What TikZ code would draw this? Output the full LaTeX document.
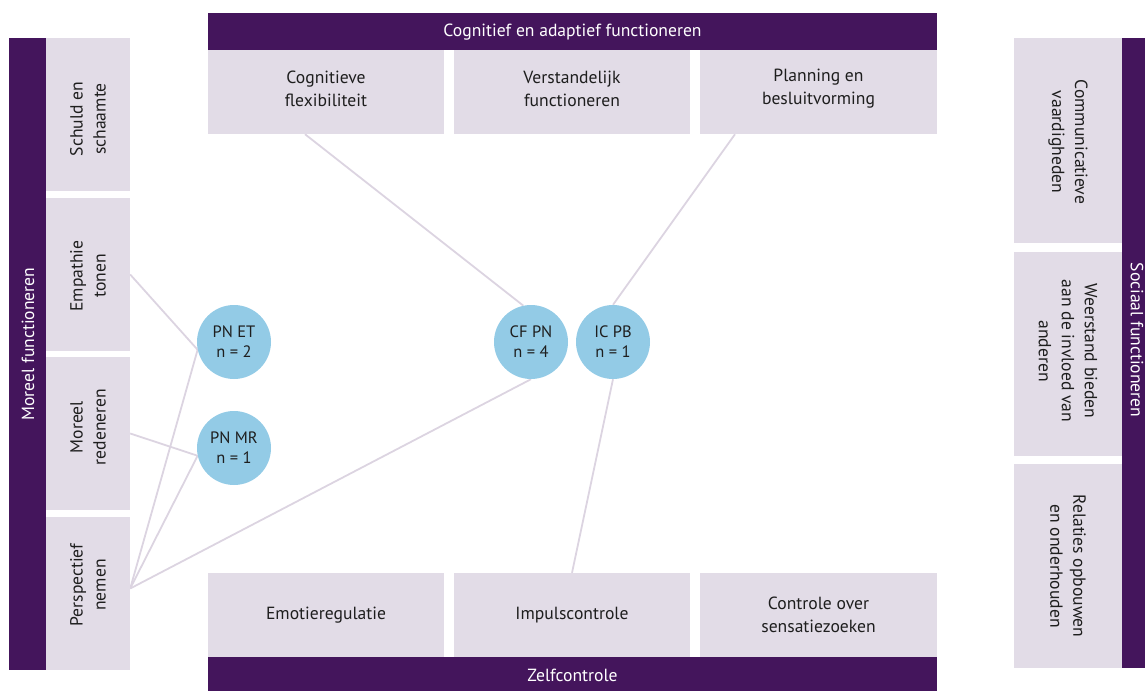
\documentclass[tikz,border=0pt]{standalone}
\usepackage{fontspec}
\setmainfont{PT Sans}
\usetikzlibrary{backgrounds,calc}
\definecolor{purp}{HTML}{44155C}
\definecolor{lbox}{HTML}{E2DCE7}
\definecolor{circ}{HTML}{93CBE6}
\definecolor{conn}{HTML}{DCD4E1}
\definecolor{ink}{HTML}{1E1E1E}
\tikzset{
  lightbox/.style={fill=lbox, draw=none, inner sep=0pt},
  purpbar/.style={fill=purp, draw=none, inner sep=0pt},
  txt/.style={align=center, text=ink, inner sep=0pt, font=\fontsize{17.6}{23}\selectfont},
  wtxt/.style={align=center, text=white, inner sep=0pt, font=\fontsize{17.6}{22}\selectfont},
  bubble/.style={circle, fill=circ, draw=none, minimum size=74pt, inner sep=0pt, align=center, text=ink, font=\fontsize{16.5}{20}\selectfont},
  link/.style={draw=conn, line width=1.8pt}
}
\begin{document}
\begin{tikzpicture}[x=1pt,y=-1pt]
\useasboundingbox (0,0) rectangle (1145,691);
\clip (0,0) rectangle (1145,691);

% top group
\node[purpbar, minimum width=729pt, minimum height=37pt] (topbar) at (572.5,31.5) {};
\node[wtxt] (topbart) at (572.5,32.5) {Cognitief en adaptief functioneren};
\node[lightbox, minimum width=236pt, minimum height=84pt] (cf) at (326,92) {};
\node[txt] (cft) at (326,89) {Cognitieve\\flexibiliteit};
\node[lightbox, minimum width=236pt, minimum height=84pt] (vf) at (572,92) {};
\node[txt] (vft) at (572,89) {Verstandelijk\\functioneren};
\node[lightbox, minimum width=237pt, minimum height=84pt] (pb) at (818.5,92) {};
\node[txt] (pbt) at (818.5,89) {Planning en\\besluitvorming};

% bottom group
\node[lightbox, minimum width=236pt, minimum height=84pt] (er) at (326,615) {};
\node[txt] (ert) at (er) {Emotieregulatie};
\node[lightbox, minimum width=236pt, minimum height=84pt] (ic) at (572,615) {};
\node[txt] (ict) at (ic) {Impulscontrole};
\node[lightbox, minimum width=237pt, minimum height=84pt] (cs) at (818.5,615) {};
\node[txt] (cst) at (cs) {Controle over\\sensatiezoeken};
\node[purpbar, minimum width=729pt, minimum height=34pt] (botbar) at (572.5,674) {};
\node[wtxt] (botbart) at (572.5,675) {Zelfcontrole};

% left group
\node[purpbar, minimum width=37pt, minimum height=632pt] (leftbar) at (27.5,354) {};
\node[wtxt, rotate=90] (leftbart) at (28,344) {Moreel functioneren};
\node[lightbox, minimum width=84pt, minimum height=153pt] (ss) at (88,114.5) {};
\node[txt, rotate=90] (sst) at (88,119) {Schuld en\\schaamte};
\node[lightbox, minimum width=84pt, minimum height=153pt] (et) at (88,274.5) {};
\node[txt, rotate=90] (ett) at (88,276) {Empathie\\tonen};
\node[lightbox, minimum width=84pt, minimum height=153pt] (mr) at (88,433.5) {};
\node[txt, rotate=90] (mrt) at (88,427) {Moreel\\redeneren};
\node[lightbox, minimum width=84pt, minimum height=153pt] (pn) at (88,593.5) {};
\node[txt, rotate=90] (pnt) at (88,585) {Perspectief\\nemen};

% right group
\node[purpbar, minimum width=38pt, minimum height=630pt] (rightbar) at (1141,353) {};
\node[wtxt, rotate=-90] (rightbart) at (1137,340) {Sociaal functioneren};
\node[lightbox, minimum width=108pt, minimum height=205pt] (cv) at (1068,140.5) {};
\node[txt, rotate=-90] (cvt) at (1068,142) {Communicatieve\\vaardigheden};
\node[lightbox, minimum width=108pt, minimum height=204pt] (wb) at (1068,354) {};
\node[txt, rotate=-90] (wbt) at (1068,351) {Weerstand bieden\\aan de invloed van\\anderen};
\node[lightbox, minimum width=108pt, minimum height=204pt] (ro) at (1068,566) {};
\node[txt, rotate=-90] (rot) at (ro) {Relaties opbouwen\\en onderhouden};

% bubbles
\node[bubble] (pnet) at (234,342) {PN ET\\n = 2};
\node[bubble] (pnmr) at (234,448) {PN MR\\n = 1};
\node[bubble] (cfpn) at (531,342) {CF PN\\n = 4};
\node[bubble] (icpb) at (613,342) {IC PB\\n = 1};

% connectors
\coordinate (cfout) at ($(cf.south)+(-21,0)$);
\coordinate (pbout) at ($(pb.south)+(-83.5,0)$);
\coordinate (pnout) at ($(pn.east)+(0,-5)$);
\begin{scope}[on background layer]
\draw[link] (et.east) -- (pnet.192);
\draw[link] (mr.east) -- (pnmr.192);
\draw[link] (pnout) -- (pnet.192);
\draw[link] (pnout) -- (pnmr.192);
\draw[link] (pnout) -- (cfpn.south);
\draw[link] (cfout) -- (cfpn.102);
\draw[link] (pbout) -- (icpb.north);
\draw[link] (icpb.south) -- (ic.north);
\end{scope}
\end{tikzpicture}
\end{document}
